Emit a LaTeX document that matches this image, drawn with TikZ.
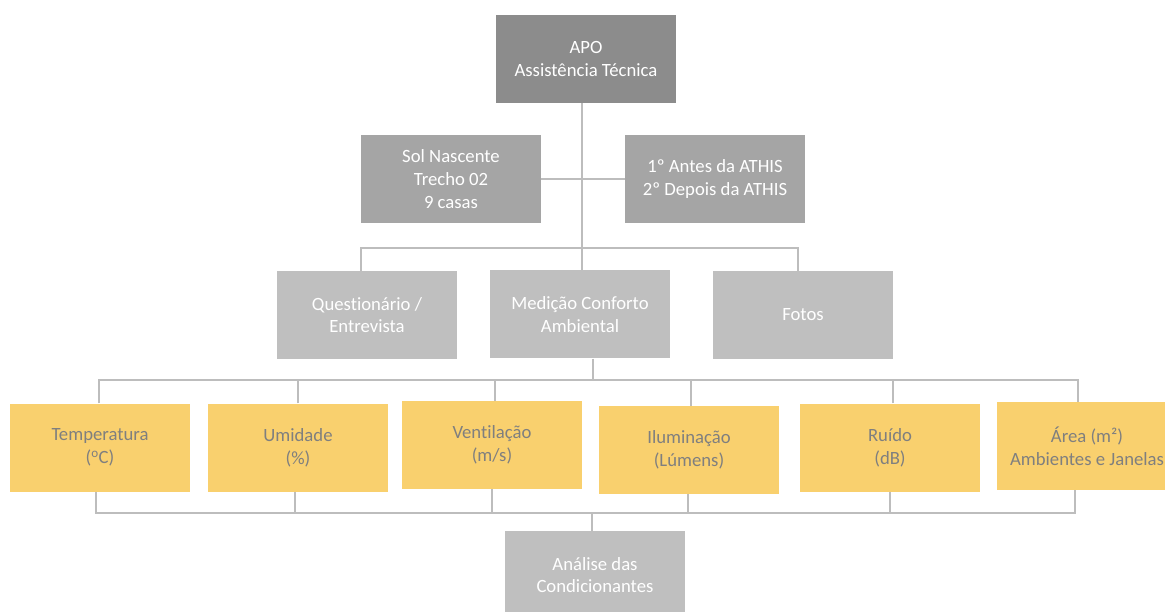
\documentclass[tikz,border=0pt]{standalone}
\usepackage{fontspec}
\setmainfont{Carlito}[Ligatures=CommonOff]
\usepackage{xcolor}

\definecolor{apogray}{HTML}{8C8C8C}
\definecolor{midgray}{HTML}{A5A5A5}
\definecolor{softgray}{HTML}{BFBFBF}
\definecolor{goldbox}{HTML}{F9D06E}
\definecolor{textgray}{HTML}{7F7F7F}
\definecolor{linegray}{HTML}{BDBDBD}

\begin{document}
\begin{tikzpicture}[x=1pt,y=-1pt,
	every node/.style={font=\fontsize{18.7}{22.8}\selectfont, align=center, minimum width=180pt, minimum height=88pt, inner sep=0pt},
	topbox/.style={fill=apogray, text=white},
	midbox/.style={fill=midgray, text=white},
	lowbox/.style={fill=softgray, text=white},
	varbox/.style={fill=goldbox, text=textgray},
	link/.style={draw=linegray, line width=1.2pt}]
	\useasboundingbox (0,0) rectangle (1165,612);

	% levels
	\node[topbox] (apo) at (586,59) {APO\\Assistência Técnica};
	\node[midbox] (sol) at (451,179) {Sol Nascente\\Trecho 02\\9 casas};
	\node[midbox] (ordem) at (715,179) {1º Antes da ATHIS\\2º Depois da ATHIS};
	\node[lowbox] (quest) at (367,315) {Questionário /\\Entrevista};
	\node[lowbox] (medicao) at (580,314.5) {Medição Conforto\\Ambiental};
	\node[lowbox] (fotos) at (803,315) {Fotos};

	\node[varbox] (temp) at (100,447.5) {Temperatura\\(\textsuperscript{o}C)};
	\node[varbox] (umid) at (298,447.5) {Umidade\\(\%)};
	\node[varbox] (vent) at (492,445) {Ventilação\\(m/s)};
	\node[varbox] (ilum) at (689,450) {Iluminação\\(Lúmens)};
	\node[varbox] (ruido) at (890,447.5) {Ruído\\(dB)};
	\node[varbox] (area) at (1087,446) {Área (m²)\\Ambientes e Janelas};

	\node[lowbox] (analise) at (595,575) {Análise das\\Condicionantes};

	% buses
	\coordinate (busTop) at (582,248);
	\coordinate (busMid) at (593,380);
	\coordinate (busLow) at (592,513);

	\draw[link] (busTop |- apo.south) -- (busTop);
	\draw[link] (sol.east) -- (ordem.west);
	\draw[link] ([xshift=-6pt]quest.north) |- (busTop) -| ([xshift=-5pt]fotos.north);
	\draw[link] (busTop) -- (busTop |- medicao.north);

	\draw[link] (busMid |- medicao.south) -- (busMid);
	\draw[link] ([xshift=-1pt]temp.north) |- (busMid) -| ([xshift=-9pt]area.north);
	\foreach \n/\s in {umid/0,vent/3,ilum/2,ruido/3}
		\draw[link] ([xshift=\s pt]\n.north) -- ([xshift=\s pt]\n.north |- busMid);

	\draw[link] ([xshift=-4pt]temp.south) |- (busLow) -| ([xshift=-12pt]area.south);
	\foreach \n/\s in {umid/-3,vent/0,ilum/-1,ruido/0}
		\draw[link] ([xshift=\s pt]\n.south) -- ([xshift=\s pt]\n.south |- busLow);
	\draw[link] (busLow) -- (busLow |- analise.north);
\end{tikzpicture}
\end{document}
